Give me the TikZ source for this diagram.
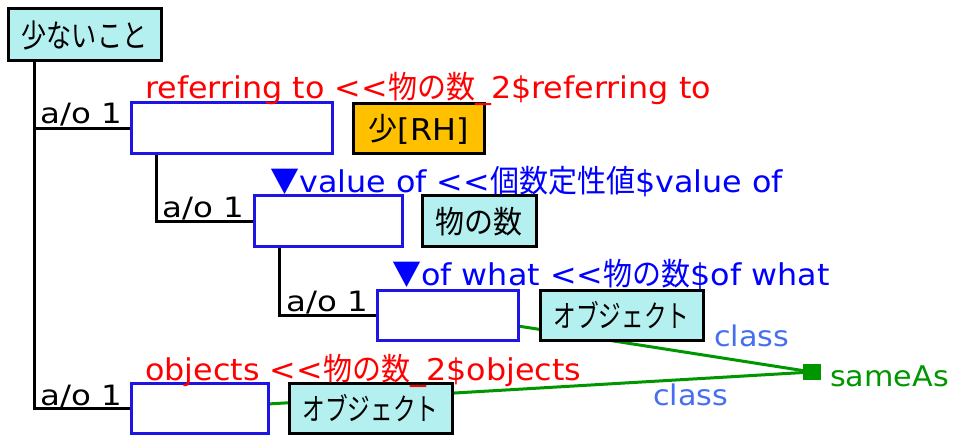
\documentclass[tikz,border=0pt]{standalone}
\usepackage{fontspec}
\setmainfont{DejaVu Sans}[FakeStretch=1.06]
\newfontfamily\aofont{DejaVu Sans}[FakeStretch=1.16]
\newfontfamily\cjk{Noto Sans CJK JP}[Scale=1.04, FakeStretch=0.93]
\newfontfamily\cjkn{Noto Sans CJK JP}[Scale=1.06, FakeStretch=0.79]
\newfontfamily\cjkk{Noto Sans CJK JP}[Scale=1.02, FakeStretch=0.74]
\usetikzlibrary{backgrounds}
\definecolor{boxcyan}{RGB}{180,240,240}
\definecolor{rhorange}{RGB}{255,192,0}
\definecolor{bordblue}{RGB}{30,20,230}
\definecolor{lblred}{RGB}{255,0,0}
\definecolor{lblblue}{RGB}{0,0,255}
\definecolor{clsblue}{RGB}{70,110,240}
\definecolor{samegreen}{RGB}{0,150,0}
\newcommand{\dblless}{<\kern0pt<}
\tikzset{
  every node/.style={inner sep=0pt},
  big/.style={font=\fontsize{30}{32}\selectfont},
  classbox/.style={big, draw=black, line width=3pt, fill=boxcyan, rectangle},
  rhbox/.style={big, draw=black, line width=3pt, fill=rhorange, rectangle},
  slotbox/.style={draw=bordblue, line width=3pt, fill=white, rectangle},
  tree/.style={draw=black, line width=3pt},
  aolbl/.style={anchor=base west, text=black, font=\fontsize{28}{30}\aofont},
  redlbl/.style={big, anchor=base west, text=lblred},
  bluelbl/.style={big, anchor=base west, text=lblblue},
  clslbl/.style={text=clsblue, font=\fontsize{28.5}{31}\selectfont},
  link/.style={draw=samegreen, line width=3pt},
}
\begin{document}
\begin{tikzpicture}[x=1pt,y=-1pt]
\useasboundingbox (0,0) rectangle (957,435);
% nodes
\node[classbox, minimum width=153pt, minimum height=52pt] (root) at (84.5,35) {\cjkn 少ないこと};
\node[slotbox, minimum width=201pt, minimum height=51pt] (b1) at (231.5,128.5) {};
\node[rhbox, minimum width=131pt, minimum height=50pt] (rh) at (418.5,129) {{\cjk 少}[RH]};
\node[slotbox, minimum width=148pt, minimum height=51pt] (b2) at (328,221.5) {};
\node[classbox, minimum width=114pt, minimum height=51pt] (num) at (479,221.5) {\cjk 物の数};
\node[slotbox, minimum width=141pt, minimum height=50pt] (b3) at (447.5,315) {};
\node[classbox, minimum width=163pt, minimum height=50pt] (obj1) at (621.5,315) {\cjkk オブジェクト};
\node[slotbox, minimum width=137pt, minimum height=50pt] (b4) at (199.5,408) {};
\node[classbox, minimum width=163pt, minimum height=50pt] (obj2) at (370.5,408) {\cjkk オブジェクト};
\node[fill=samegreen, minimum width=18pt, minimum height=16pt] (same) at (812,372) {};
\node[anchor=base west, text=samegreen, font=\fontsize{28.5}{31}\selectfont] (samelbl) at (830,386) {sameAs};
% labels
\node[aolbl] (ao1) at (40,124) {a/o 1};
\node[aolbl] (ao2) at (162,218) {a/o 1};
\node[aolbl] (ao3) at (286,311) {a/o 1};
\node[aolbl] (ao4) at (40,405) {a/o 1};
\node[redlbl] (r1) at (145,99) {referring to \dblless{\cjk 物の数}\_2\$referring to};
\node[bluelbl] (l2) at (270,193) {{\cjk ▼}value of \dblless{\cjk 個数定性値}\$value of};
\node[bluelbl] (l3) at (392,286) {{\cjk ▼}of what \dblless{\cjk 物の数}\$of what};
\node[redlbl] (r4) at (145,380) {objects \dblless{\cjk 物の数}\_2\$objects};
\node[clslbl, anchor=base west] (c1) at (714,346) {class};
\node[clslbl, anchor=base west] (c2) at (653,405) {class};
% connectors
\begin{scope}[on background layer]
\draw[tree] ([xshift=28pt]root.south west) |- (b1.west);
\draw[tree] ([xshift=28pt]root.south west) |- (b4.west);
\draw[tree] ([xshift=27pt]b1.south west) |- (b2.west);
\draw[tree] ([xshift=27pt]b2.south west) |- (b3.west);
\draw[link] (b3.center) -- (same.center);
\draw[link] (b4.center) -- (same.center);
\end{scope}
\end{tikzpicture}
\end{document}
